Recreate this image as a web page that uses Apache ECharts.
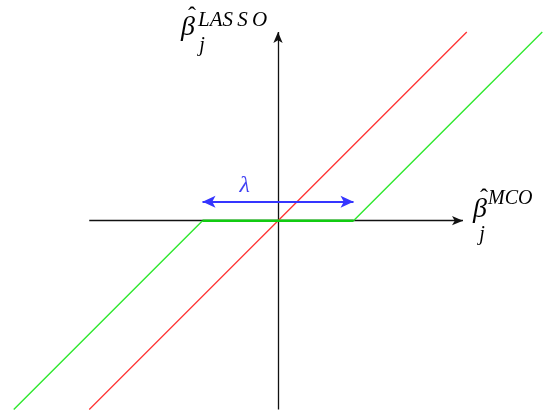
<!DOCTYPE html>
<html>
<head>
<meta charset="utf-8">
<script src="https://cdn.jsdelivr.net/npm/echarts@6/dist/echarts.min.js"></script>
<style>
html, body { margin: 0; padding: 0; background: #fff; }
#chart { width: 545px; height: 412px; }
</style>
</head>
<body>
<div id="chart"></div>
<script>
// OLS estimate vs LASSO (soft threshold), lambda = 1
var olsLine = [[-2.5, -2.5], [2.5, 2.5]];
var lassoLeft = [[-3.5, -2.5], [-1, 0]];
var lassoFlat = [[-1, 0], [1, 0]];
var lassoRight = [[1, 0], [3.5, 2.5]];
var xAxisExtent = [[-2.5, 0], [2.45, 0]];
var yAxisExtent = [[0, -2.5], [0, 2.5]];
var lambdaArrow = [[-1, 0.25], [1, 0.25]];
var lambdaLabelAt = [[-0.44, 0.47]];

initChart();
function initChart(){
    var dom = document.getElementById('chart');
    var myChart = echarts.init(dom, null, { renderer: 'canvas' });
    var serif = '"Liberation Serif", "Times New Roman", "DejaVu Serif", serif';

    function seg(pts){
        return [{ coord: pts[0] }, { coord: pts[1] }];
    }
    function txt(s, x, y, size, italic, align){
        return { type: 'text', x: x, y: y, silent: true, z: 10,
          style: { text: s, font: (italic ? 'italic ' : '') + size + 'px ' + serif,
                   fill: '#000', align: align || 'center', verticalAlign: 'middle' } };
    }

    var option = {
        animation: false,
        grid: { left: 0, right: 0, top: 9.3, height: 400.15 },
        xAxis: { type: 'value', min: -3.682, max: 3.536, show: false },
        yAxis: { type: 'value', min: -2.5, max: 2.8, show: false },
        series: [
          {
            type: 'line',
            data: [],
            silent: true,
            z: 1,
            markLine: {
              z: 1,
              silent: true,
              symbol: ['none', 'arrow'],
              symbolSize: [7, 11],
              label: { show: false },
              lineStyle: { color: '#111', width: 1.3, type: 'solid' },
              data: [seg(xAxisExtent), seg(yAxisExtent)]
            }
          },
          {
            type: 'line', data: olsLine, showSymbol: false, clip: false, silent: true, z: 3,
            lineStyle: { color: '#ff3333', width: 1.3 }
          },
          {
            type: 'line', data: lassoLeft, showSymbol: false, clip: false, silent: true, z: 3,
            lineStyle: { color: '#2ee82e', width: 1.4 }
          },
          {
            type: 'line', data: lassoRight, showSymbol: false, clip: false, silent: true, z: 3,
            lineStyle: { color: '#2ee82e', width: 1.4 }
          },
          {
            type: 'line', data: lassoFlat, showSymbol: false, clip: false, silent: true, z: 4,
            lineStyle: { color: '#11cc11', width: 2.6 }
          },
          {
            type: 'line',
            data: [],
            silent: true,
            z: 6,
            markLine: {
              z: 6,
              silent: true,
              symbol: ['arrow', 'arrow'],
              symbolSize: [9, 13],
              label: { show: false },
              lineStyle: { color: '#3535ff', width: 2, type: 'solid' },
              data: [seg(lambdaArrow)]
            }
          },
          {
            type: 'scatter', data: lambdaLabelAt, symbolSize: 0, silent: true, z: 7,
            label: {
              show: true, position: 'inside', formatter: 'λ',
              fontFamily: serif, fontStyle: 'italic', fontSize: 24, color: '#1010f0'
            }
          }
        ],
        graphic: [
          txt('β', 188, 28, 28, true),
          txt('ˆ', 192, 17, 24, false),
          txt('j', 202, 46, 20, true),
          txt('LAS\u2009S\u2009O', 198, 20, 21, true, 'left'),
          txt('β', 480, 210, 28, true),
          txt('ˆ', 484, 199, 24, false),
          txt('j', 482, 235, 20, true),
          txt('MCO', 488, 199, 20, true, 'left')
        ]
    };

    myChart.setOption(option);
    window.addEventListener('resize', myChart.resize);
}
</script>
</body>
</html>
